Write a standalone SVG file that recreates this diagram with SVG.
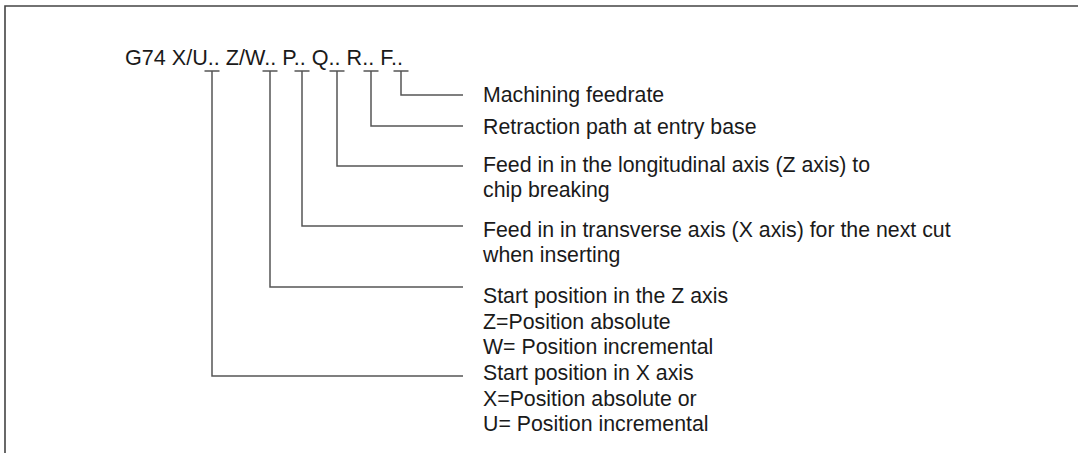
<svg xmlns="http://www.w3.org/2000/svg" width="1078" height="453" viewBox="0 0 1078 453">
<style>
text{font-family:"Liberation Sans",Arial,sans-serif;font-size:21.3px;fill:#1a1a1a}
.c{fill:none;stroke:#555;stroke-width:1.5}
.f{fill:none;stroke:#444;stroke-width:1.6}
</style>
<rect width="1078" height="453" fill="#fff"/>
<g id="frame"><path class="f" d="M5,453 V6 H1078"/></g>
<g id="command"><text x="125" y="65" style="font-size:21.6px">G74 X/U.. Z/W.. P.. Q.. R.. F..</text></g>
<g id="connectors">
<path class="c" d="M204.5,71 H219.5 M212,71 V376 H463"/>
<path class="c" d="M262.5,71 H277.5 M270,71 V287 H463"/>
<path class="c" d="M294.5,71 H309.5 M302,71 V226 H463"/>
<path class="c" d="M329.5,71 H344.5 M337,71 V166 H463"/>
<path class="c" d="M363.5,71 H378.5 M371,71 V126 H463"/>
<path class="c" d="M393.5,71 H408.5 M401,71 V95 H463"/>
</g>
<g id="label-f"><text x="483" y="102">Machining feedrate</text></g>
<g id="label-r"><text x="483" y="134">Retraction path at entry base</text></g>
<g id="label-q"><text x="483" y="172">Feed in in the longitudinal axis (Z axis) to</text><text x="483" y="197">chip breaking</text></g>
<g id="label-p"><text x="483" y="237">Feed in in transverse axis (X axis) for the next cut</text><text x="483" y="262">when inserting</text></g>
<g id="label-zw"><text x="483" y="303">Start position in the Z axis</text><text x="483" y="329">Z=Position absolute</text><text x="483" y="354">W= Position incremental</text></g>
<g id="label-xu"><text x="483" y="380">Start position in X axis</text><text x="483" y="406">X=Position absolute or</text><text x="483" y="431">U= Position incremental</text></g>
</svg>
